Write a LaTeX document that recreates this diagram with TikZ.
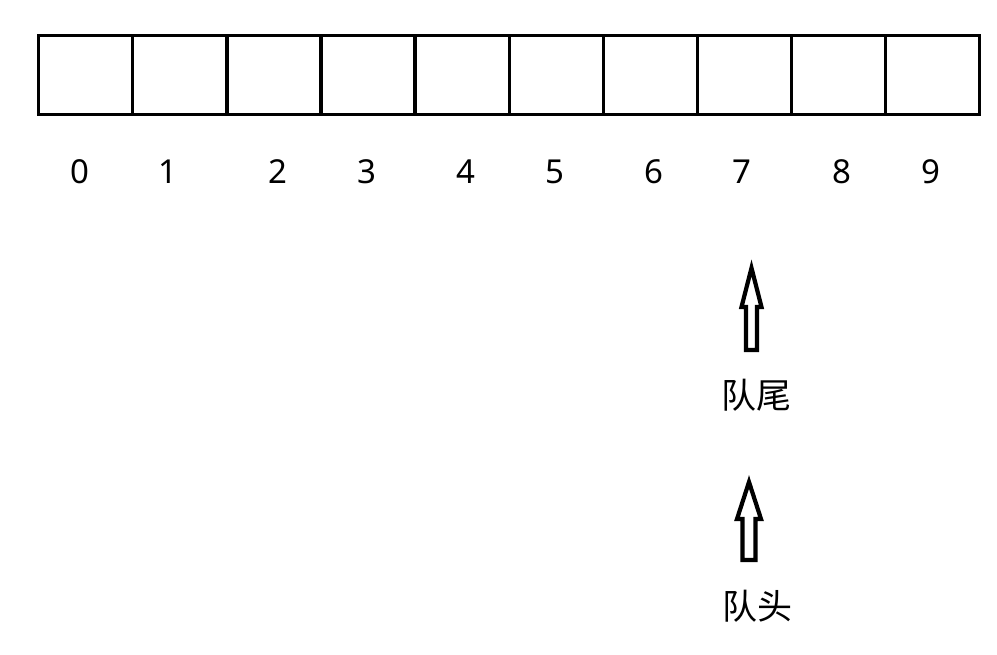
\documentclass[tikz,border=0pt]{standalone}
\usepackage{fontspec}
\setmainfont{Noto Sans}
\newfontfamily\cjk{Noto Sans CJK SC}
\usetikzlibrary{positioning}
\tikzset{
x=1pt, y=-1pt, % pixel units, y grows downwards
cell/.style={draw, line width=3.3pt, minimum width=94.1pt, minimum height=79pt, inner sep=0pt, anchor=north west}, % one slot of the queue
idx/.style={font=\fontsize{33}{33}\selectfont}, % the index below a slot
pointer/.style={draw, line width=4.2pt, line join=miter}, % hollow up arrow
tag/.style={font=\cjk\fontsize{35}{35}\selectfont}, % label under an arrow
}
\begin{document}
\begin{tikzpicture}
    \useasboundingbox (0,0) rectangle (997,655);

    % the array
    \foreach \i in {0,...,9}
        \node[cell] (c\i) at ({37+94.1*\i},34) {};

    % indices
    \node[idx] (n0) at (80,172) {0};
    \node[idx] (n1) at (168,172) {1};
    \node[idx] (n2) at (278,172) {2};
    \node[idx] (n3) at (367,172) {3};
    \node[idx] (n4) at (466,172) {4};
    \node[idx] (n5) at (555,172) {5};
    \node[idx] (n6) at (654,172) {6};
    \node[idx] (n7) at (742,172) {7};
    \node[idx] (n8) at (842,172) {8};
    \node[idx] (n9) at (931,172) {9};

    % rear pointer
    \coordinate (rear) at (751.5,268);
    \draw[pointer] (rear) -- ++(10,39) -- ++(-4.5,0) -- ++(0,43) -- ++(-11,0)
        -- ++(0,-43) -- ++(-4.5,0) -- cycle;
    \node[tag] (reartag) at (756,395) {队尾};

    % front pointer
    \coordinate (front) at (749,482);
    \draw[pointer] (front) -- ++(12,37) -- ++(-5.5,0) -- ++(0,41) -- ++(-13,0)
        -- ++(0,-41) -- ++(-5.5,0) -- cycle;
    \node[tag] (fronttag) at (757,606) {队头};
\end{tikzpicture}
\end{document}
